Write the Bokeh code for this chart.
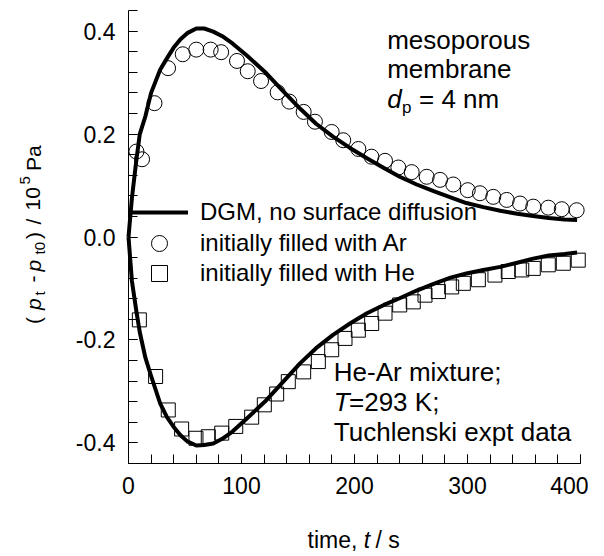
from bokeh.plotting import figure
from bokeh.models import FixedTicker, PrintfTickFormatter, Label, Legend, LegendItem, Range1d
from bokeh.embed import file_html
from bokeh.resources import INLINE

# ---------------- data ----------------
dgm_t = [0, 3, 7, 10, 15, 20, 28, 34, 40, 46, 52, 60, 67, 75, 83, 92, 105, 122, 137, 152,
         166, 181, 196, 211, 226, 240, 255, 270, 285, 299, 314, 329, 344, 358, 372, 386, 397]
dgm_ar = [0.0, 0.075, 0.15, 0.20, 0.235, 0.28, 0.325, 0.347, 0.368, 0.384, 0.396, 0.405, 0.405,
          0.399, 0.390, 0.376, 0.352, 0.318, 0.283, 0.249, 0.220, 0.195, 0.173, 0.153, 0.134,
          0.117, 0.102, 0.089, 0.077, 0.066, 0.058, 0.051, 0.045, 0.041, 0.037, 0.034, 0.033]
dgm_he = [0.0, -0.085, -0.145, -0.185, -0.235, -0.27, -0.323, -0.35, -0.369, -0.385, -0.397,
          -0.405, -0.404, -0.401, -0.392, -0.378, -0.352, -0.317, -0.281, -0.245, -0.216,
          -0.190, -0.168, -0.148, -0.132, -0.119, -0.104, -0.091, -0.079, -0.071, -0.064,
          -0.058, -0.050, -0.042, -0.036, -0.033, -0.030]

ar_t = [7, 12, 23, 35, 48, 60, 72.7, 82, 96, 105.5, 117.3, 132, 142.3, 155, 165, 179.8, 190,
        203.4, 215, 227, 238.8, 250.6, 263.9, 275.7, 287.4, 300.2, 311, 322.8, 334.7, 346.5,
        358.2, 371.5, 383.4, 396.6]
ar_p = [0.166, 0.151, 0.26, 0.328, 0.355, 0.364, 0.364, 0.359, 0.342, 0.322, 0.303, 0.281,
        0.263, 0.243, 0.224, 0.204, 0.188, 0.171, 0.156, 0.148, 0.135, 0.126, 0.117, 0.111,
        0.102, 0.091, 0.085, 0.078, 0.072, 0.065, 0.059, 0.057, 0.054, 0.052]

he_t = [9.6, 24, 35.2, 47, 59.7, 70.6, 82.5, 94.9, 109, 120.2, 131.1, 141.4, 155, 168, 179.8,
        191.6, 203.4, 215.2, 227, 240, 252, 262.4, 274.2, 286, 296.3, 309.6, 324.3, 336.1, 348,
        358.2, 371.5, 384.8, 398]
he_p = [-0.161, -0.271, -0.336, -0.373, -0.391, -0.388, -0.381, -0.368, -0.350, -0.326, -0.305,
        -0.281, -0.262, -0.242, -0.219, -0.197, -0.181, -0.168, -0.148, -0.132, -0.126, -0.113,
        -0.106, -0.097, -0.090, -0.083, -0.074, -0.067, -0.064, -0.061, -0.054, -0.051, -0.045]

x_ticks = [0, 100, 200, 300, 400]
x_minor = [0, 20, 40, 60, 80, 100, 120, 140, 160, 180, 200, 220, 240, 260, 280, 300, 320, 340,
           360, 380, 400]
y_ticks = [-0.4, -0.2, 0.0, 0.2, 0.4]
y_minor = [-0.44, -0.40, -0.36, -0.32, -0.28, -0.24, -0.20, -0.16, -0.12, -0.08, -0.04, 0.0,
           0.04, 0.08, 0.12, 0.16, 0.20, 0.24, 0.28, 0.32, 0.36, 0.40, 0.44]
x_lim = (0, 400)
y_lim = (-0.44, 0.44)

legend_labels = ["DGM, no surface diffusion", "initially filled with Ar", "initially filled with He"]

FONT = "Liberation Sans"

# ---------------- layout ----------------
W, H = 588, 552
AX_L, AX_R, AX_T, AX_B = 128, 580, 10, 463   # axes box in pixels
K = 0.27   # observed baseline drop of Label text, as a fraction of font size


def dx(ix):
    return x_lim[0] + (ix - AX_L) / (AX_R - AX_L) * (x_lim[1] - x_lim[0])


def dy(iy):
    return y_lim[1] - (iy - AX_T) / (AX_B - AX_T) * (y_lim[1] - y_lim[0])


# the frame covers the whole canvas; axes are pinned at the data box edges
p = figure(width=W, height=H, output_backend="svg", toolbar_location=None,
           x_range=Range1d(dx(0), dx(W)), y_range=Range1d(dy(H), dy(0)),
           min_border=0, min_border_left=0, min_border_right=0,
           min_border_top=0, min_border_bottom=0)
p.outline_line_color = None
p.grid.visible = False
p.background_fill_color = "white"
p.border_fill_color = "white"

p.xaxis.ticker = FixedTicker(ticks=x_ticks, minor_ticks=x_minor)
p.yaxis.ticker = FixedTicker(ticks=y_ticks, minor_ticks=y_minor)
p.yaxis.formatter = PrintfTickFormatter(format="%.1f")
p.xaxis.fixed_location = y_lim[0]
p.yaxis.fixed_location = x_lim[0]
p.xaxis.bounds = x_lim
p.yaxis.bounds = y_lim
for ax in (p.xaxis[0], p.yaxis[0]):
    ax.axis_line_color = "black"
    ax.axis_line_width = 1
    ax.major_tick_in = 9
    ax.major_tick_out = 0
    ax.minor_tick_in = 9
    ax.minor_tick_out = 0
    ax.major_tick_line_color = "black"
    ax.minor_tick_line_color = "black"
    ax.major_label_text_font = FONT
    ax.major_label_text_font_size = "23px"
    ax.major_label_text_color = "black"
    ax.major_label_standoff = 13

# markers first, then curves on top
circ = p.scatter(ar_t, ar_p, marker="circle", size=15, fill_color=None,
                 line_color="black", line_width=1)
sq = p.scatter(he_t, he_p, marker="square", size=14, fill_color=None,
               line_color="black", line_width=1)
l1 = p.line(dgm_t, dgm_ar, line_width=4, line_color="black", line_join="round")
l2 = p.line(dgm_t, dgm_he, line_width=4, line_color="black", line_join="round")


# one legend per entry so that each row can sit at its own height
def add_legend(label, renderer, center_y):
    lg = Legend(items=[LegendItem(label=label, renderers=[renderer])],
                location=(130, H - (center_y + 20)), padding=0, spacing=0,
                glyph_width=58, glyph_height=40, label_height=40, label_standoff=12,
                label_text_font=FONT, label_text_font_size="24px", label_text_color="black",
                background_fill_alpha=0, border_line_alpha=0, margin=0)
    p.add_layout(lg)


add_legend(legend_labels[0], l1, 212.3)
add_legend(legend_labels[1], circ, 242.7)
add_legend(legend_labels[2], sq, 273)


def lab(ix, iy, text, size=26, style="normal"):
    # horizontal text; (ix, iy) = start of baseline in picture pixels
    p.add_layout(Label(x=dx(ix), y=dy(iy - K * size), text=text, text_font=FONT,
                       text_font_size=f"{size}px", text_font_style=style,
                       text_baseline="alphabetic", text_align="left", text_color="black"))


def vlab(ix, iy, text, size=21, style="normal"):
    # text rotated to read upwards; ix = baseline column, iy = start of the text
    p.add_layout(Label(x=dx(ix - K * size), y=dy(iy), text=text, text_font=FONT,
                       text_font_size=f"{size}px", text_font_style=style,
                       text_baseline="alphabetic", text_align="left", text_color="black",
                       angle=90, angle_units="deg"))


# top-right annotation
lab(386.7, 47, "mesoporous")
lab(386.7, 76, "membrane")
lab(386.7, 105.5, "d", style="italic")
lab(401.5, 111.5, "p", size=17)
lab(418.5, 105.5, "= 4 nm")

# bottom-right annotation
lab(333.3, 379, "He-Ar mixture;")
lab(333.3, 408.5, "T", style="italic")
lab(348.5, 408.5, "=293 K;")
lab(333.3, 438.5, "Tuchlenski expt data")

# x axis label: time, t / s
lab(307, 546, "time,", size=23)
lab(363.2, 546, "t", size=23, style="italic")
lab(375, 546, "/ s", size=23)

# y axis label: ( p_t - p_t0 ) / 10^5 Pa  (rotated)
base = 38.3
vlab(base, 323.5, "(")
vlab(base, 309.5, "p", style="italic")
vlab(43.5, 295, "t", size=15)
vlab(base, 282, "-")
vlab(base, 271, "p", style="italic")
vlab(43.5, 254, "t0", size=15)
vlab(base, 238.5, ")")
vlab(base, 224, "/")
vlab(base, 210, "10")
vlab(28.5, 184, "5", size=15)
vlab(base, 170.5, "Pa")

open("out.html", "w").write(file_html(p, INLINE))
